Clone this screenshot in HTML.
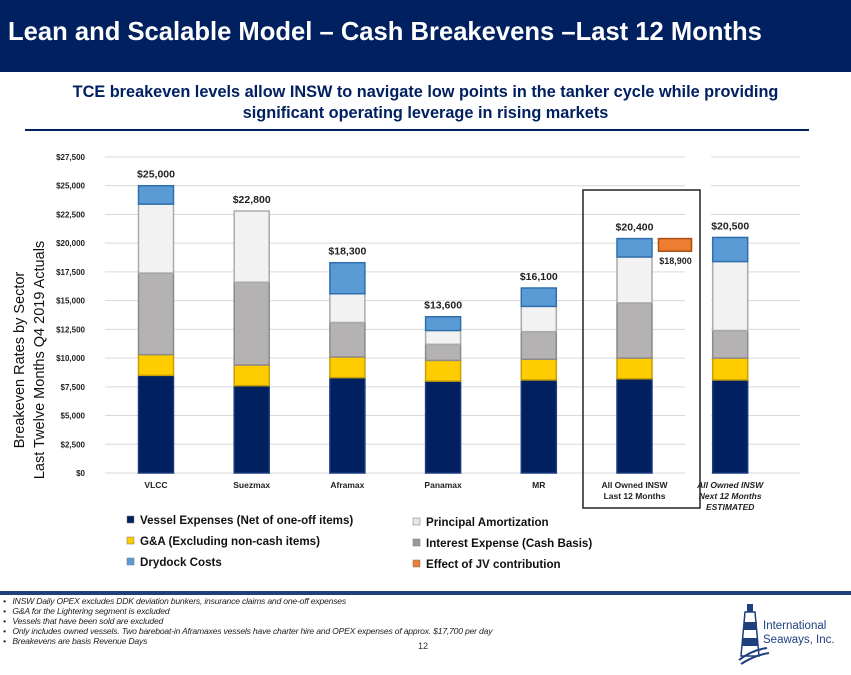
<!DOCTYPE html>
<html><head><meta charset="utf-8"><style>
body{margin:0;width:851px;height:675px;overflow:hidden;background:#fff;font-family:"Liberation Sans",sans-serif;position:relative}
.hdr{position:absolute;left:0;top:0;width:851px;height:72px;background:#002060}
.hdr span{position:absolute;left:8px;top:18px;color:#fff;font-weight:bold;font-size:25.6px;white-space:nowrap}
.sub{position:absolute;left:0;width:851px;top:82px;text-align:center;color:#002060;font-weight:bold;font-size:16.3px;line-height:21px}
.foot{position:absolute;left:3px;top:596px;font-size:8.6px;font-style:italic;color:#222;line-height:10px;white-space:nowrap;letter-spacing:-0.2px}
</style></head><body>
<div class="hdr"><span>Lean and Scalable Model – Cash Breakevens –Last 12 Months</span></div>
<div class="sub">TCE breakeven levels allow INSW to navigate low points in the tanker cycle while providing<br>significant operating leverage in rising markets</div>
<div style="position:absolute;left:25px;top:129px;width:784px;height:2px;background:#002060"></div>
<svg id="chart" width="851" height="675" style="position:absolute;left:0;top:0"></svg>
<div style="position:absolute;left:0;top:591px;width:851px;height:4px;background:#1f3f7f"></div>
<div class="foot">
•&nbsp;&nbsp;&nbsp;INSW Daily OPEX excludes DDK deviation bunkers, insurance claims and one-off expenses<br>
•&nbsp;&nbsp;&nbsp;G&amp;A for the Lightering segment is excluded<br>
•&nbsp;&nbsp;&nbsp;Vessels that have been sold are excluded<br>
•&nbsp;&nbsp;&nbsp;Only includes owned vessels.  Two bareboat-in Aframaxes vessels have charter hire and OPEX expenses of approx. $17,700 per day<br>
•&nbsp;&nbsp;&nbsp;Breakevens are basis Revenue Days</div>
<div style="position:absolute;left:418px;top:641px;font-size:9px;color:#333">12</div>
<div style="position:absolute;left:737px;top:598px;width:110px;height:70px">
<svg width="100" height="70"><polygon points="8,14 18,14 22,58 4,58" fill="#fff" stroke="#1f3f7f" stroke-width="1.5"/><rect x="7" y="24" width="13" height="8" fill="#1f3f7f"/><rect x="5" y="40" width="16" height="8" fill="#1f3f7f"/><rect x="10" y="6" width="6" height="8" fill="#1f3f7f"/><path d="M2 62 Q15 52 30 50 M4 66 Q18 57 32 55" stroke="#1f3f7f" stroke-width="2" fill="none"/></svg>
<div style="position:absolute;left:26px;top:21px;font-size:11.5px;color:#1f3f7f;line-height:14px;white-space:nowrap">International<br>Seaways, Inc.</div></div>
<script>
const categories=["VLCC","Suezmax","Aframax","Panamax","MR","All Owned INSW|Last 12 Months","All Owned INSW|Next 12 Months|ESTIMATED"];
const vessel=[8500,7600,8300,8000,8100,8200,8100];
const ga=[1800,1800,1800,1800,1800,1800,1900];
const interest=[7100,7200,3000,1400,2400,4800,2400];
const principal=[6000,6200,2500,1200,2200,4000,6000];
const drydock=[1600,0,2700,1200,1600,1600,2100];
const totals=["$25,000","$22,800","$18,300","$13,600","$16,100","$20,400","$20,500"];
const jvRange=[19300,20400];
const jvLabel="$18,900";
const yTicks=[0,2500,5000,7500,10000,12500,15000,17500,20000,22500,25000,27500];
const NS="http://www.w3.org/2000/svg",svg=document.getElementById('chart');
const y0=473,yTop=157,yMax=27500;
const y=v=>y0-(v/yMax)*(y0-yTop);
const xc=i=>156+i*95.7;
const bw=35;
function mk(t,a,p){const e=document.createElementNS(NS,t);for(const k in a)e.setAttribute(k,a[k]);(p||svg).appendChild(e);return e;}
yTicks.forEach(v=>{
 const g1=mk('line',{x1:105,x2:685,y1:y(v),y2:y(v),stroke:'#d9d9d9','stroke-width':1});
 
 const g2=mk('line',{x1:711,x2:800,y1:y(v),y2:y(v),stroke:'#d9d9d9','stroke-width':1});
 
 const t=mk('text',{x:85,y:y(v)+3,'text-anchor':'end','font-size':8,'font-weight':'bold',fill:'#222'});
 t.textContent='$'+v.toLocaleString('en-US');
 
});
const series=[[vessel,'#002060','#1a3a80'],[ga,'#ffcc00','#c9a000'],[interest,'#b4b2b2','#8c8a8a'],[principal,'#f2f2f2','#aaaaaa'],[drydock,'#5b9bd5','#2e6fae']];
const snames=['vessel-expense','ga','interest','principal','drydock'];
categories.forEach((c,i)=>{
 let acc=0;
 series.forEach((s,k)=>{
  const v=s[0][i];if(!v)return;
  const r=mk('rect',{x:xc(i)-bw/2,y:y(acc+v),width:bw,height:y(acc)-y(acc+v),fill:s[1],stroke:s[2],'stroke-width':1.5});
  
  acc+=v;
 });
 const t=mk('text',{x:xc(i),y:y(acc)-8,'text-anchor':'middle','font-size':10.5,'font-weight':'bold',fill:'#222'});
 t.textContent=totals[i];
 c.split('|').forEach((ln,j)=>{
  const l=mk('text',{x:xc(i),y:488+j*11,'text-anchor':'middle','font-size':8.5,'font-weight':'bold',fill:'#222','font-style':i==6?'italic':'normal'});
  l.textContent=ln;
 });
});
const jv=mk('rect',{x:xc(5)+24,y:y(jvRange[1]),width:33,height:y(jvRange[0])-y(jvRange[1]),fill:'#ed7d31',stroke:'#a84f10','stroke-width':1.5});

const jt=mk('text',{x:xc(5)+41,y:y(jvRange[0])+13,'text-anchor':'middle','font-size':9,'font-weight':'bold',fill:'#222'});
jt.textContent=jvLabel;
const box=mk('rect',{x:583,y:190,width:117,height:318,fill:'none',stroke:'#222','stroke-width':1.5});

const at=mk('text',{transform:'translate(24,360) rotate(-90)','text-anchor':'middle','font-size':14.5,fill:'#111'});
at.textContent='Breakeven Rates by Sector';
const at2=mk('text',{transform:'translate(44,360) rotate(-90)','text-anchor':'middle','font-size':14.5,fill:'#111'});
at2.textContent='Last Twelve Months Q4 2019 Actuals';
const legend=[['Vessel Expenses (Net of one-off items)','#002060',127,524],['G&A (Excluding non-cash items)','#ffcc00',127,545],['Drydock Costs','#5b9bd5',127,566],['Principal Amortization','#e6e6e6',413,526],['Interest Expense (Cash Basis)','#9a9898',413,547],['Effect of JV contribution','#ed7d31',413,568]];
legend.forEach(l=>{
 const g=mk('g',{});
 mk('rect',{x:l[2],y:l[3]-8,width:7,height:7,fill:l[1],stroke:'#777','stroke-width':0.5},g);
 const t=mk('text',{x:l[2]+13,y:l[3],'font-size':11.6,'font-weight':'bold',fill:'#111'},g);t.textContent=l[0];
});
</script>
</body></html>
